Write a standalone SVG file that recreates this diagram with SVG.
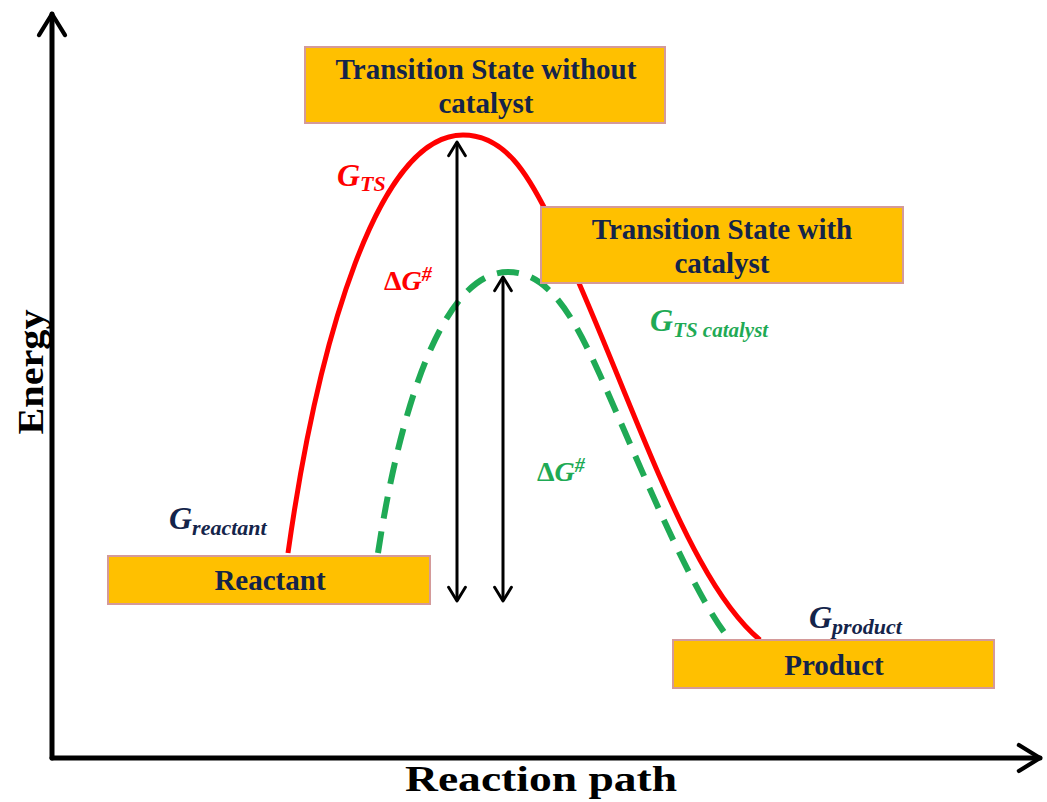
<svg xmlns="http://www.w3.org/2000/svg" width="1047" height="802" viewBox="0 0 1047 802">
<style>
.box{fill:#FFC000;stroke:#D49A9A;stroke-width:2}
.bt{font-family:"Liberation Serif",serif;font-weight:bold;font-size:29px;fill:#14244A;text-anchor:middle}
.lab{font-family:"Liberation Serif",serif;font-weight:bold;font-style:italic}
.ax{stroke:#000;stroke-width:5;fill:none;stroke-linecap:round}
.dbl{stroke:#000;stroke-width:3;fill:none}
</style>
<defs>
<marker id="ah" viewBox="0 0 10 10" refX="8" refY="5" markerWidth="7" markerHeight="7" orient="auto-start-reverse" markerUnits="strokeWidth">
<path d="M1.5,1 L8,5 L1.5,9" fill="none" stroke="#000" stroke-width="1.4" stroke-linecap="round" stroke-linejoin="round"/>
</marker>
<marker id="ax" viewBox="0 0 10 10" refX="8" refY="5" markerWidth="6.5" markerHeight="6.5" orient="auto" markerUnits="strokeWidth">
<path d="M1.5,1 L8,5 L1.5,9" fill="none" stroke="#000" stroke-width="1.3" stroke-linecap="round" stroke-linejoin="round"/>
</marker>
</defs>
<g id="axes">
<line class="ax" x1="52" y1="758" x2="52" y2="14" marker-end="url(#ax)"/>
<line class="ax" x1="52" y1="758" x2="1040" y2="758" marker-end="url(#ax)"/>
<text class="bt" transform="translate(43,372) rotate(-90)" style="font-size:36px;fill:#000" textLength="125" lengthAdjust="spacingAndGlyphs">Energy</text>
<text class="bt" x="541" y="791" style="font-size:35px;fill:#000" textLength="272" lengthAdjust="spacingAndGlyphs">Reaction path</text>
</g>
<g id="connectors">
<path d="M288,553 C318,340 378,135 463,135 C505,135 528,175 548,215 C600,320 650,470 700,560 C722,600 742,625 760,640" fill="none" stroke="#FF0000" stroke-width="5"/>
<path d="M378,553 C398,420 440,272 508,272 C550,272 575,320 600,375 C640,465 690,590 730,640" fill="none" stroke="#1FAA55" stroke-width="6" stroke-dasharray="22 13"/>
<line class="dbl" x1="457" y1="142" x2="457" y2="601" marker-start="url(#ah)" marker-end="url(#ah)"/>
<line class="dbl" x1="503" y1="277" x2="503" y2="601" marker-start="url(#ah)" marker-end="url(#ah)"/>
</g>
<g id="ts-without">
<rect class="box" x="305" y="47" width="360" height="76"/>
<text class="bt" x="486" y="79">Transition State without</text>
<text class="bt" x="486" y="113">catalyst</text>
</g>
<g id="ts-with">
<rect class="box" x="541" y="207" width="362" height="76"/>
<text class="bt" x="722" y="239">Transition State with</text>
<text class="bt" x="722" y="273">catalyst</text>
</g>
<g id="reactant">
<rect class="box" x="108" y="556" width="322" height="48"/>
<text class="bt" x="270" y="590">Reactant</text>
</g>
<g id="product">
<rect class="box" x="673" y="640" width="321" height="48"/>
<text class="bt" x="834" y="675">Product</text>
</g>
<g id="labels">
<text class="lab" x="337" y="186" fill="#FF0000" font-size="32">G<tspan font-size="22" dy="5">TS</tspan></text>
<text class="lab" x="384" y="290" fill="#FF0000" font-size="28"><tspan font-style="normal">Δ</tspan>G<tspan font-size="20" dy="-9">#</tspan></text>
<text class="lab" x="650" y="331" fill="#1FAA55" font-size="32">G<tspan font-size="21" dy="6">TS catalyst</tspan></text>
<text class="lab" x="537" y="481" fill="#1FAA55" font-size="28"><tspan font-style="normal">Δ</tspan>G<tspan font-size="20" dy="-9">#</tspan></text>
<text class="lab" x="169" y="529" fill="#14244A" font-size="32">G<tspan font-size="22" dy="6">reactant</tspan></text>
<text class="lab" x="809" y="628" fill="#14244A" font-size="32">G<tspan font-size="22" dy="6">product</tspan></text>
</g>
</svg>
